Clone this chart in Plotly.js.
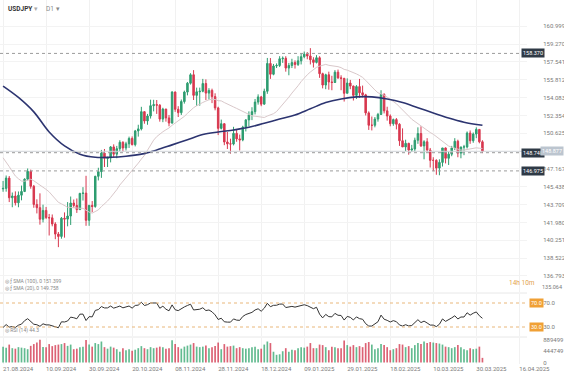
<!DOCTYPE html>
<html><head><meta charset="utf-8">
<script src="https://cdn.plot.ly/plotly-3.0.1.min.js"></script>
<style>html,body{margin:0;padding:0;background:#fff}#c{width:564px;height:382px}</style>
</head><body><div id="c"></div>
<script>
// ---- data (USDJPY D1, 21.08.2024 - 31.03.2025) ----
const openP = [145.23,145.28,146.28,144.37,144.54,143.88,144.62,144.98,146.17,146.93,
145.48,143.72,143.41,142.29,143.14,142.45,142.42,141.83,140.85,140.62,
142.38,142.30,142.60,143.86,143.62,143.22,144.79,144.82,142.18,143.63,
143.52,146.45,146.90,148.70,148.19,148.22,149.30,148.60,149.13,149.75,
149.20,149.60,150.12,149.52,150.85,151.05,152.72,151.82,152.30,153.30,
153.40,153.35,152.00,152.97,152.11,151.62,154.62,152.95,152.62,153.70,
154.62,155.48,156.30,154.30,154.65,154.70,155.45,154.52,154.78,154.18,
153.08,151.10,151.55,149.78,149.60,149.58,150.62,150.08,149.98,151.22,
151.92,152.42,152.72,153.65,154.15,153.45,154.70,157.40,156.35,157.15,
157.20,157.85,157.90,156.95,157.20,157.48,157.30,157.65,158.05,158.30,
158.12,157.75,157.50,157.95,156.40,155.30,156.30,155.60,155.55,156.55,
156.00,155.95,154.50,155.50,155.20,154.30,155.15,154.55,154.35,152.60,
151.40,151.40,152.00,152.45,154.40,152.80,152.30,151.55,151.95,151.50,
149.90,149.30,149.65,149.00,149.10,149.95,150.60,149.40,149.80,149.00,
148.00,148.00,147.25,147.80,149.20,148.20,148.60,149.20,149.85,148.70,
149.30,149.30,150.65,149.90,150.55,151.00,149.80];
const highP = [146.00,146.53,146.48,144.88,144.99,144.98,145.55,146.26,147.21,147.10,
145.61,144.22,144.80,143.70,143.48,142.80,142.75,142.00,141.05,142.50,
142.95,143.95,144.49,144.20,144.30,144.85,145.40,146.50,143.68,144.05,
146.50,147.28,149.01,149.10,148.35,149.39,149.55,149.40,149.95,149.85,
149.80,150.30,150.32,150.95,151.45,153.19,152.75,152.50,153.88,153.87,
153.85,153.45,153.10,153.00,152.40,154.71,154.68,153.25,153.90,154.76,
155.60,156.45,156.75,155.05,155.05,155.90,155.85,155.00,154.95,154.50,
153.20,151.95,151.60,150.75,150.10,151.25,150.95,150.50,151.35,152.00,
152.75,153.15,153.95,154.40,154.25,154.95,157.93,157.92,157.35,157.40,
158.10,158.08,158.10,157.45,157.85,157.70,158.10,158.40,158.55,158.50,
158.88,158.00,158.20,158.10,156.50,156.40,156.60,156.20,156.75,156.80,
156.25,156.00,155.95,155.80,155.25,155.30,155.90,155.25,154.45,152.75,
152.25,152.20,152.60,154.80,154.50,153.20,152.45,152.05,152.10,151.60,
151.10,150.00,149.70,149.50,150.20,151.20,151.30,149.95,150.15,149.20,
148.30,148.10,148.10,149.20,149.25,148.85,149.40,150.15,150.00,149.30,
149.50,150.80,150.90,150.70,151.20,151.00,149.95];
const lowP = [144.95,144.96,143.95,143.45,143.62,143.45,144.12,144.92,146.05,145.25,
143.40,142.85,141.76,141.98,142.30,140.71,141.60,140.35,139.58,140.40,
140.50,141.60,141.73,143.40,142.90,143.20,144.10,141.65,141.65,142.97,
143.40,146.05,146.30,147.35,147.35,147.80,148.30,148.20,148.90,148.85,
148.95,149.20,149.45,149.35,150.30,150.90,151.55,151.45,152.05,152.75,
152.50,151.75,151.70,151.75,151.30,151.55,152.70,152.20,152.40,153.50,
154.30,155.35,153.85,153.28,153.30,154.60,153.85,153.90,153.55,152.85,
150.45,151.00,149.47,149.10,148.65,149.45,149.80,148.95,149.85,150.80,
151.30,151.90,152.45,153.40,153.25,153.40,154.45,155.90,156.25,156.95,
157.05,157.45,156.60,156.25,156.95,156.90,157.15,157.30,157.90,157.80,
157.30,157.00,157.40,156.00,154.98,154.90,154.85,154.80,155.50,155.90,
154.80,153.70,154.50,154.90,153.80,153.95,154.05,154.10,152.35,150.95,
150.90,151.20,151.75,152.40,152.55,151.85,151.30,151.35,151.00,149.40,
149.30,148.90,148.55,148.80,148.85,149.60,149.30,148.10,148.80,147.30,
146.95,146.60,146.55,147.40,147.70,147.55,148.40,149.00,148.30,148.20,
148.50,149.15,149.60,149.70,150.15,149.65,148.70];
const closeP = [145.28,146.28,144.37,144.54,143.88,144.62,144.98,146.17,146.93,145.48,
143.72,143.41,142.29,143.14,142.45,142.42,141.83,140.85,140.62,142.38,
142.30,142.60,143.86,143.62,143.22,144.79,144.82,142.18,143.63,143.52,
146.45,146.90,148.70,148.19,148.22,149.30,148.60,149.13,149.75,149.20,
149.60,150.12,149.52,150.85,151.05,152.72,151.82,152.30,153.30,153.40,
153.35,152.00,152.97,152.11,151.62,154.62,152.95,152.62,153.70,154.62,
155.48,156.30,154.30,154.65,154.70,155.45,154.52,154.78,154.18,153.08,
151.10,151.55,149.78,149.60,149.58,150.62,150.08,149.98,151.22,151.92,
152.42,152.72,153.65,154.15,153.45,154.70,157.40,156.35,157.15,157.20,
157.85,157.90,156.95,157.20,157.48,157.30,157.65,158.05,158.30,158.12,
157.75,157.50,157.95,156.40,155.30,156.30,155.60,155.55,156.55,156.00,
155.95,154.50,155.50,155.20,154.30,155.15,154.55,154.35,152.60,151.40,
151.40,152.00,152.45,154.40,152.80,152.30,151.55,151.95,151.50,149.90,
149.30,149.65,149.00,149.10,149.95,150.60,149.40,149.80,149.00,148.00,
148.00,147.25,147.80,149.20,148.20,148.60,149.20,149.85,148.70,149.30,
149.30,150.65,149.90,150.55,151.00,149.80,148.877];
// closes of the 20 sessions before the first bar (warm-up for SMA 20 / RSI 14)
const priorClose = [153.90,153.95,153.75,154.00,152.70,149.95,149.40,146.55,144.20,144.30,
146.75,147.30,146.60,147.20,146.90,147.30,149.30,147.65,146.60,145.25];
const volume = [620000,580000,700000,560000,540000,600000,580000,560000,520000,650000,
720000,780000,889000,610000,600000,720000,640000,680000,700000,720000,
760000,650000,700000,520000,540000,600000,620000,880000,700000,620000,
760000,720000,820000,600000,540000,620000,580000,520000,420000,560000,
480000,520000,460000,500000,560000,640000,560000,520000,600000,560000,
580000,620000,600000,540000,560000,870000,720000,600000,540000,620000,
660000,700000,760000,620000,600000,620000,660000,560000,600000,640000,
780000,520000,720000,620000,640000,660000,560000,600000,560000,540000,
560000,600000,620000,520000,540000,700000,820000,760000,420000,300000,
320000,440000,560000,420000,500000,480000,560000,600000,580000,620000,
760000,560000,560000,700000,680000,600000,480000,620000,600000,560000,
560000,860000,680000,620000,680000,600000,640000,600000,760000,800000,
700000,520000,560000,720000,680000,600000,480000,520000,560000,720000,
700000,600000,640000,560000,680000,760000,720000,820000,760000,800000,
780000,760000,740000,700000,620000,600000,560000,600000,680000,600000,
520000,480000,560000,520000,540000,620000,180000];
// long moving average (dark line) at every 5th bar
const maLongBar = [0,5,10,15,20,25,30,35,40,45,50,55,60,65,70,75,80,85,90,95,100,105,110,115,120,125,130,135,140,145,150,156];
const maLongVal = [155.2,154.1,152.7,150.75,149.4,148.6,148.3,148.3,148.4,148.6,149.0,149.5,150.0,150.5,150.75,150.95,151.2,151.6,152.0,152.4,153.0,153.6,153.95,154.15,154.15,153.95,153.6,153.1,152.6,152.1,151.7,151.4];
const xTickBar = [0,14,28,42,56,70,84,98,112,126,140,154,168];
const xTickText = ['21.08.2024','10.09.2024','30.09.2024','20.10.2024','08.11.2024','28.11.2024','18.12.2024','09.01.2025','29.01.2025','18.02.2025','10.03.2025','30.03.2025','16.04.2025'];
const priceTicks = [136.793,138.522,140.251,141.980,143.709,145.438,147.167,150.625,152.354,154.083,155.812,157.541,159.270,160.999];
const levels = [158.370,148.740,146.975];
const lastPrice = 148.877;
const rsiLevels = [70,30];
const volTicks = [0,444749,889499];

// ---- derived ----
const xs = closeP.map((_, i) => i);
const allC = priorClose.concat(closeP);
const off = priorClose.length;
const sma20 = xs.map(i => { let s = 0; for (let k = 0; k < 20; k++) s += allC[off + i - k]; return s / 20; });
// Wilder RSI 14
let ag = 0, al = 0;
for (let k = 1; k <= 14; k++) { const d = allC[k] - allC[k - 1]; if (d > 0) ag += d; else al -= d; }
ag /= 14; al /= 14;
const rsiAll = [];
for (let k = 15; k < allC.length; k++) {
  const d = allC[k] - allC[k - 1];
  ag = (ag * 13 + Math.max(d, 0)) / 14; al = (al * 13 + Math.max(-d, 0)) / 14;
  rsiAll[k] = 100 - 100 / (1 + ag / al);
}
const rsi = xs.map(i => rsiAll[off + i]);
const GREEN = '#2e9d70', RED = '#d8384f';
const volColor = xs.map(i => closeP[i] >= openP[i] ? 'rgba(70,175,125,0.85)' : 'rgba(214,70,92,0.85)');

const W = 527, H = 364;
const px = v => v / W, py = v => 1 - v / H;
const small = {family: 'Roboto, "Liberation Sans", sans-serif', size: 6, color: '#7a7a7a'};

const traces = [
  {type: 'candlestick', x: xs, open: openP, high: highP, low: lowP, close: closeP, xaxis: 'x', yaxis: 'y',
   increasing: {line: {color: GREEN, width: 1}, fillcolor: GREEN},
   decreasing: {line: {color: RED, width: 1}, fillcolor: RED}, whiskerwidth: 0, showlegend: false, hoverinfo: 'skip'},
  {type: 'scatter', mode: 'lines', x: xs, y: sma20, line: {color: '#d9c8ca', width: 1}, yaxis: 'y', showlegend: false, hoverinfo: 'skip'},
  {type: 'scatter', mode: 'lines', x: maLongBar, y: maLongVal, line: {color: '#2c3470', width: 1.6, shape: 'spline'}, yaxis: 'y', showlegend: false, hoverinfo: 'skip'},
  {type: 'scatter', mode: 'lines', x: xs, y: rsi, line: {color: '#333333', width: 1}, yaxis: 'y2', showlegend: false, hoverinfo: 'skip'},
  {type: 'bar', x: xs, y: volume, marker: {color: volColor, line: {width: 0}}, width: 0.55, yaxis: 'y3', showlegend: false, hoverinfo: 'skip'}
];

const shapes = [];
levels.forEach(v => shapes.push({type: 'line', xref: 'paper', x0: 0, x1: 1, yref: 'y', y0: v, y1: v, line: {color: '#9c9c9c', width: 1, dash: '3px,3px'}}));
shapes.push({type: 'line', xref: 'paper', x0: 0, x1: 1, yref: 'y', y0: lastPrice, y1: lastPrice, line: {color: '#cfd3d8', width: 1}});
rsiLevels.forEach(v => shapes.push({type: 'line', xref: 'paper', x0: 0, x1: 1, yref: 'y2', y0: v, y1: v, line: {color: '#e9b77a', width: 1, dash: '3px,3px'}}));
[293, 337].forEach(v => shapes.push({type: 'line', xref: 'paper', x0: 0, x1: 1, yref: 'paper', y0: py(v), y1: py(v), line: {color: '#e8e8e8', width: 1}}));

const ann = [];
ann.push({xref: 'paper', yref: 'paper', x: px(6), y: py(9), xanchor: 'left', yanchor: 'middle', showarrow: false,
  text: '<b>USDJPY</b> <span style="color:#aaa">▾</span>     <span style="color:#888">D1 ▾</span>', font: {family: 'Roboto, sans-serif', size: 6.5, color: '#333'}});
levels.forEach(v => ann.push({xref: 'paper', yref: 'y', x: px(533), y: v, xanchor: 'center', yanchor: 'middle', showarrow: false,
  text: v.toFixed(3), bgcolor: '#2f3a46', borderpad: 1, font: {family: 'Roboto, sans-serif', size: 5.5, color: '#ffffff'}}));
ann.push({xref: 'paper', yref: 'y', x: px(552), y: lastPrice, xanchor: 'center', yanchor: 'middle', showarrow: false,
  text: lastPrice.toFixed(3), bgcolor: '#bcc5cf', borderpad: 1, font: {family: 'Roboto, sans-serif', size: 5.5, color: '#ffffff'}});
rsiLevels.forEach(v => ann.push({xref: 'paper', yref: 'y2', x: px(536), y: v, xanchor: 'center', yanchor: 'middle', showarrow: false,
  text: v.toFixed(1), bgcolor: '#f0a035', borderpad: 1, font: {family: 'Roboto, sans-serif', size: 5.5, color: '#ffffff'}}));
ann.push({xref: 'paper', yref: 'paper', x: px(552), y: py(287), xanchor: 'center', yanchor: 'middle', showarrow: false, borderpad: 0, text: '135.064', font: {family: small.family, size: 5.5, color: '#7a7a7a'}});
ann.push({xref: 'paper', yref: 'paper', x: px(537), y: py(283), xanchor: 'right', yanchor: 'middle', showarrow: false, text: '14h 10m', font: {family: small.family, size: 6.5, color: '#e3a24a'}});
ann.push({xref: 'paper', yref: 'paper', x: px(3), y: py(281), xanchor: 'left', yanchor: 'middle', showarrow: false, text: '◎ ƒ SMA (100), 0 151.399', font: {family: small.family, size: 5, color: '#888'}});
ann.push({xref: 'paper', yref: 'paper', x: px(3), y: py(288), xanchor: 'left', yanchor: 'middle', showarrow: false, text: '◎ ƒ SMA (20), 0 149.758', font: {family: small.family, size: 5, color: '#888'}});
ann.push({xref: 'paper', yref: 'paper', x: px(3), y: py(330), xanchor: 'left', yanchor: 'middle', showarrow: false, text: '◎ RSI (14) 44.3', font: {family: small.family, size: 5, color: '#888'}});

const yCommon = {side: 'right', showline: false, zeroline: false, ticks: 'outside', ticklen: 14, tickcolor: 'rgba(0,0,0,0)', tickfont: small, fixedrange: true};
const layout = {
  width: 564, height: 382, margin: {l: 0, r: 37, t: 0, b: 18},
  paper_bgcolor: '#ffffff', plot_bgcolor: '#ffffff', showlegend: false, dragmode: false,
  xaxis: {anchor: 'y3', range: [-1, 170.5], tickmode: 'array', tickvals: xTickBar, ticktext: xTickText,
    ticklabelposition: 'outside right', tickfont: small, ticks: '', showgrid: true, gridcolor: '#f1f1f1', gridwidth: 1,
    zeroline: false, showline: false, rangeslider: {visible: false}},
  yaxis: Object.assign({}, yCommon, {domain: [py(292), 1], range: [135.23, 163.55], tickmode: 'array', tickvals: priceTicks,
    ticktext: priceTicks.map(v => v.toFixed(3)), showgrid: true, gridcolor: '#f3f3f3'}),
  yaxis2: Object.assign({}, yCommon, {domain: [py(336), py(294)], range: [15, 85], tickmode: 'array', tickvals: rsiLevels,
    ticktext: rsiLevels.map(v => v.toFixed(1)), showgrid: false}),
  yaxis3: Object.assign({}, yCommon, {domain: [0, py(338)], range: [-60000, 958000], tickmode: 'array', tickvals: volTicks,
    ticktext: volTicks.map(String), showgrid: false}),
  shapes: shapes, annotations: ann
};
Plotly.newPlot('c', traces, layout, {staticPlot: true, displayModeBar: false});
</script></body></html>
